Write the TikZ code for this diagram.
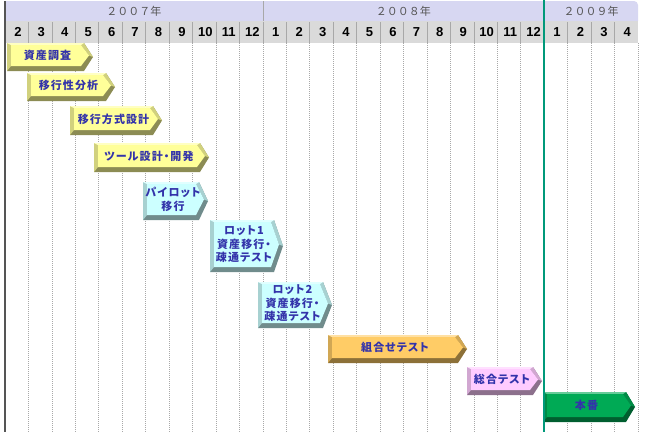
\documentclass[tikz,border=0pt]{standalone}
\usepackage{fontspec}
\setmainfont{Noto Sans CJK JP}
\newfontfamily\numfont{Liberation Sans}
\newfontfamily\barfont[LetterSpace=10, RawFeature=+palt]{Noto Sans CJK JP}
\usetikzlibrary{positioning}

\definecolor{yearfill}{HTML}{D7D7F2}
\definecolor{monthfill}{HTML}{DADADA}
\definecolor{gridgray}{HTML}{A8A8A8}
\definecolor{labelblue}{HTML}{3333AA}
\definecolor{yeargray}{HTML}{555555}
\definecolor{milestone}{HTML}{00997A}
\definecolor{yellowbar}{HTML}{FFFF99}
\definecolor{cyanbar}{HTML}{CCFFFF}
\definecolor{orangebar}{HTML}{FFCC66}
\definecolor{pinkbar}{HTML}{FFCCFF}
\definecolor{greenbar}{HTML}{00AA55}

\begin{document}
\begin{tikzpicture}[x=1pt, y=-1pt,
    bartext/.style={font=\barfont\bfseries\fontsize{11}{13.5}\selectfont,
        text=labelblue, align=center, inner sep=0pt},
    monthlabel/.style={font=\numfont\bfseries\fontsize{13}{13}\selectfont,
        inner sep=0pt},
    yearlabel/.style={font=\fontsize{11}{12}\selectfont,
        text=yeargray, inner sep=0pt},
    gridline/.style={gridgray, line width=0.6pt, dash pattern=on 1pt off 1pt}]
    \def\colw{23.44}
    \useasboundingbox (0,0) rectangle (648,432);

    % header
    \fill[yearfill] (5,21) -- (5,1) -- (634,1)
        arc[start angle=-90, end angle=0, radius=4] -- (638,21) -- cycle;
    \fill[monthfill] (5,21) rectangle (638,43);

    \node[yearlabel](y2007) at ({5+5.5*\colw},11){２００７年};
    \node[yearlabel](y2008) at ({5+17*\colw},11){２００８年};
    \node[yearlabel](y2009) at ({5+25*\colw},11){２００９年};

    \foreach \i in {0,...,26}{
        \pgfmathtruncatemacro\mon{mod(\i+1,12)+1}
        \node[monthlabel](m\i) at ({5+(\i+0.55)*\colw},32){\mon};
    }
    \foreach \i in {1,...,26}
        \draw[gridgray, line width=0.6pt] ({5+\i*\colw},22) -- ({5+\i*\colw},43);
    \draw[gridgray, line width=0.6pt] ({5+11*\colw},1) -- ({5+11*\colw},21);

    % month grid
    \foreach \i in {1,...,27}{
        \ifnum\i=23\else
            \draw[gridline] ({5+\i*\colw},43) -- ({5+\i*\colw},432);
        \fi
    }
    \draw[yeargray, line width=1.2pt] (5,1) -- (5,432);

    % bars
    \foreach \nm/\xa/\xb/\ya/\yb/\fc/\txt in {
        survey/7/93/43/71/yellowbar/{資産調査},
        analysis/27/115/73/101/yellowbar/{移行性分析},
        design/70/162/106/135/yellowbar/{移行方式設計},
        tool/94/209/143/172/yellowbar/{ツール設計・開発},
        pilot/143/208/182/220/cyanbar/{パイロット\\移行},
        lotone/210/283/220/272/cyanbar/{ロット1\\資産移行・\\疎通テスト},
        lottwo/258/332/282/328/cyanbar/{ロット2\\資産移行・\\疎通テスト},
        combi/328/467/335/363/orangebar/{組合せテスト},
        system/467/542/367/395/pinkbar/{総合テスト},
        golive/543/635/392/422/greenbar/{本番}}{
        \pgfmathsetmacro\ym{(\ya+\yb)/2}
        \pgfmathsetmacro\yi{(\ya+\yb-3)/2}
        \fill[\fc!55!black] (\xa,\ya) -- ({\xb-9},\ya) -- (\xb,\ym)
            -- ({\xb-9},\yb) -- (\xa,\yb) -- cycle;
        \fill[\fc!82!black] (\xa,\yb) -- (\xa,\ya) -- ({\xb-9},\ya) -- (\xb,\ym)
            -- ({\xb-4},\yi) -- ({\xb-12},{\ya+2}) -- ({\xa+4},{\ya+2})
            -- ({\xa+4},{\yb-5}) -- cycle;
        \fill[\fc!60!white] (\xa,\ya) -- ({\xb-9},\ya) -- ({\xb-12},{\ya+2})
            -- ({\xa+4},{\ya+2}) -- cycle;
        \fill[\fc] ({\xa+4},{\ya+2}) -- ({\xb-12},{\ya+2}) -- ({\xb-4},\yi)
            -- ({\xb-12},{\yb-5}) -- ({\xa+4},{\yb-5}) -- cycle;
        \node[bartext](\nm) at ({(\xa+\xb-9)/2+2},\yi){\txt};
    }

    % milestone
    \draw[milestone, line width=1.5pt] ({5+23*\colw},0) -- ({5+23*\colw},432);
\end{tikzpicture}
\end{document}
